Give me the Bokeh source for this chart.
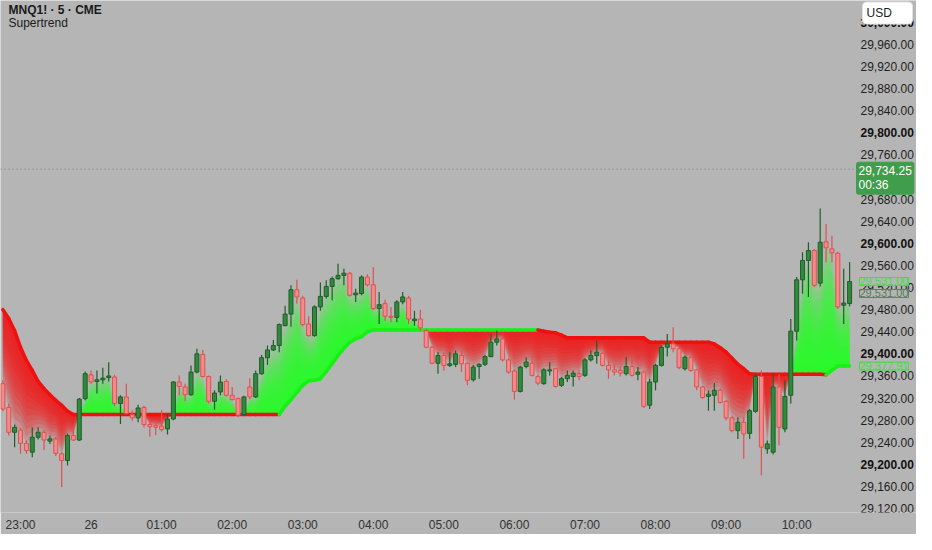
import numpy as np
import pandas as pd
from bokeh.plotting import figure
from bokeh.models import Range1d, FixedTicker, Label
from bokeh.core.properties import value
from bokeh.embed import file_html
from bokeh.resources import INLINE

# ---------------- data ----------------
SYMBOL_TITLE = "MNQ1! · 5 · CME"
INDICATOR = "Supertrend"
CURRENCY = "USD"

bar_times = pd.date_range("2025-06-25 22:45", periods=145, freq="5min")

opens = [29346, 29303, 29258, 29262, 29238, 29222, 29249, 29258, 29242, 29246,
         29219, 29207, 29252, 29244, 29319, 29362, 29350, 29353, 29357, 29358,
         29310, 29322, 29290, 29284, 29303, 29272, 29270, 29269, 29264, 29282,
         29349, 29340, 29326, 29367, 29399, 29359, 29314, 29331, 29350, 29325,
         29319, 29290, 29340, 29322, 29364, 29393, 29407, 29415, 29451, 29472,
         29516, 29501, 29454, 29433, 29485, 29504, 29522, 29536, 29542, 29546,
         29507, 29509, 29539, 29525, 29482, 29491, 29468, 29466, 29494, 29501,
         29460, 29463, 29442, 29412, 29383, 29397, 29379, 29381, 29397, 29383,
         29353, 29377, 29381, 29395, 29421, 29427, 29389, 29369, 29332, 29377,
         29383, 29359, 29346, 29369, 29373, 29343, 29355, 29359, 29364, 29361,
         29389, 29397, 29401, 29379, 29371, 29370, 29364, 29377, 29363, 29367,
         29307, 29349, 29379, 29412, 29418, 29409, 29373, 29393, 29371, 29340,
         29323, 29325, 29334, 29314, 29284, 29261, 29276, 29256, 29296, 29359,
         29228, 29222, 29340, 29264, 29325, 29441, 29534, 29569, 29587, 29528,
         29603, 29590, 29582, 29488, 29491]
highs = [29352, 29310, 29272, 29266, 29243, 29267, 29267, 29263, 29252, 29250,
         29222, 29256, 29263, 29320, 29368, 29370, 29370, 29375, 29385, 29362,
         29325, 29346, 29298, 29308, 29306, 29282, 29280, 29298, 29291, 29351,
         29361, 29346, 29379, 29409, 29407, 29361, 29334, 29361, 29354, 29340,
         29321, 29324, 29356, 29370, 29398, 29415, 29425, 29455, 29487, 29524,
         29534, 29505, 29468, 29488, 29529, 29533, 29540, 29563, 29554, 29548,
         29518, 29542, 29544, 29557, 29512, 29498, 29485, 29497, 29512, 29505,
         29478, 29480, 29445, 29414, 29403, 29403, 29403, 29406, 29406, 29385,
         29380, 29383, 29398, 29437, 29442, 29430, 29392, 29372, 29378, 29394,
         29397, 29362, 29374, 29385, 29375, 29358, 29370, 29370, 29370, 29392,
         29406, 29424, 29403, 29388, 29382, 29377, 29394, 29397, 29376, 29370,
         29355, 29382, 29415, 29436, 29448, 29412, 29397, 29396, 29373, 29342,
         29334, 29347, 29338, 29316, 29287, 29285, 29285, 29300, 29363, 29370,
         29243, 29363, 29364, 29352, 29463, 29539, 29584, 29602, 29590, 29663,
         29635, 29614, 29585, 29554, 29566]
lows = [29296, 29252, 29231, 29219, 29219, 29213, 29245, 29226, 29237, 29215,
        29159, 29198, 29242, 29242, 29316, 29346, 29328, 29346, 29350, 29305,
        29273, 29290, 29279, 29276, 29267, 29250, 29253, 29259, 29254, 29280,
        29325, 29314, 29324, 29365, 29357, 29310, 29299, 29325, 29323, 29316,
        29285, 29288, 29318, 29320, 29362, 29380, 29405, 29403, 29450, 29449,
        29491, 29450, 29431, 29431, 29478, 29500, 29497, 29534, 29524, 29504,
        29494, 29506, 29522, 29479, 29454, 29460, 29457, 29457, 29490, 29454,
        29451, 29442, 29410, 29381, 29364, 29370, 29376, 29376, 29367, 29343,
        29350, 29355, 29378, 29394, 29415, 29386, 29364, 29317, 29330, 29374,
        29359, 29343, 29344, 29361, 29339, 29340, 29349, 29341, 29352, 29358,
        29386, 29382, 29377, 29355, 29361, 29359, 29361, 29359, 29352, 29302,
        29300, 29334, 29377, 29395, 29403, 29372, 29370, 29367, 29334, 29318,
        29297, 29297, 29310, 29280, 29258, 29246, 29210, 29246, 29293, 29180,
        29219, 29218, 29234, 29258, 29310, 29424, 29509, 29503, 29521, 29522,
        29566, 29566, 29481, 29454, 29486]
closes = [29300, 29258, 29267, 29238, 29225, 29249, 29258, 29244, 29246, 29220,
          29207, 29252, 29244, 29318, 29364, 29349, 29353, 29356, 29360, 29310,
          29322, 29292, 29284, 29302, 29272, 29268, 29267, 29263, 29282, 29349,
          29341, 29326, 29367, 29400, 29359, 29314, 29329, 29349, 29325, 29317,
          29289, 29322, 29322, 29364, 29393, 29407, 29415, 29453, 29472, 29516,
          29503, 29453, 29433, 29485, 29504, 29522, 29536, 29542, 29546, 29506,
          29510, 29539, 29525, 29482, 29489, 29468, 29466, 29494, 29503, 29463,
          29463, 29447, 29412, 29383, 29397, 29379, 29382, 29400, 29382, 29352,
          29376, 29381, 29395, 29421, 29427, 29389, 29367, 29332, 29376, 29385,
          29361, 29347, 29371, 29371, 29341, 29355, 29361, 29365, 29359, 29389,
          29397, 29403, 29379, 29371, 29367, 29365, 29377, 29361, 29367, 29305,
          29349, 29379, 29412, 29418, 29409, 29375, 29394, 29370, 29340, 29321,
          29327, 29334, 29312, 29284, 29261, 29276, 29255, 29297, 29359, 29231,
          29237, 29340, 29267, 29323, 29441, 29534, 29569, 29587, 29524, 29602,
          29592, 29583, 29485, 29492, 29531]
supertrend = [29480, 29464, 29442, 29412, 29388, 29370, 29350, 29337, 29326, 29316,
              29307, 29296, 29290, 29290, 29290, 29290, 29290, 29290, 29290, 29290,
              29290, 29290, 29290, 29290, 29290, 29290, 29290, 29290, 29290, 29290,
              29290, 29290, 29290, 29290, 29290, 29290, 29290, 29290, 29290, 29290,
              29290, 29290, 29290, 29290, 29290, 29290, 29290, 29290, 29305, 29317,
              29330, 29343, 29351, 29352, 29355, 29368, 29382, 29397, 29410, 29421,
              29427, 29431, 29440, 29443, 29443, 29443, 29443, 29443, 29443, 29443,
              29443, 29443, 29443, 29443, 29443, 29443, 29443, 29443, 29443, 29443,
              29443, 29443, 29443, 29443, 29443, 29443, 29443, 29443, 29443, 29443,
              29443, 29443, 29441, 29439, 29438, 29434, 29429, 29429, 29429, 29429,
              29429, 29429, 29429, 29429, 29429, 29429, 29429, 29429, 29429, 29429,
              29421, 29421, 29421, 29421, 29421, 29421, 29421, 29421, 29421, 29421,
              29421, 29418, 29411, 29403, 29392, 29381, 29373, 29364, 29363, 29363,
              29363, 29363, 29363, 29363, 29363, 29363, 29363, 29363, 29363, 29363,
              29362, 29370, 29377.91, 29377.91, 29377.91]
trend_runs = [("down", 48), ("up", 44), ("down", 49), ("up", 4)]

last_quote = 29734.25
countdown = "00:36"
last_close = 29531.00
st_value = 29377.91
y_ticks = [29120 + 40 * k for k in range(23)]

# ---------------- style / layout ----------------
BG = "#b5b5b5"
FONT = "Liberation Sans"
UP_FILL, UP_LINE = "#2f8a3c", "#1d5f27"
DN_FILL, DN_LINE = "#f28b8b", "#e0504f"
ST_RED, ST_GREEN = "#f01010", "#16f016"
FILL_RED, FILL_GREEN = "#f01818", "#22ff22"

W, H = 916, 534
BOTTOM = 22                      # x-axis band
PX_PER_BAR = 5.88
PX_PER_PT = 0.5524
X_FIRST_HOUR_PX = 20             # where 23:00 sits
Y_REF_PX, Y_REF_P = 44, 29960    # pixel row of one price level
PRICE_COL_PX = 860               # left edge of price labels
BARS_END_PX = 853

n = len(closes)
xs = np.arange(n, dtype=float)
o = np.array(opens, float); h = np.array(highs, float)
l = np.array(lows, float); c = np.array(closes, float)
st = np.array(supertrend, float)
trend = [t for t, k in trend_runs for _ in range(k)]

tick_pos, tick_lab = [], {}
for i, t in enumerate(bar_times):
    if t.minute == 0:
        tick_pos.append(i)
        tick_lab[i] = t.strftime("%d") if t.hour == 0 else t.strftime("%H:%M")

first_hour = tick_pos[0]
x0 = first_hour - X_FIRST_HOUR_PX / PX_PER_BAR
x1 = x0 + W / PX_PER_BAR
frame_h = H - BOTTOM
y_top = Y_REF_P + Y_REF_PX / PX_PER_PT
y_bot = y_top - frame_h / PX_PER_PT
px2x = lambda px: x0 + px / PX_PER_BAR
px2y = lambda py: y_top - py / PX_PER_PT

p = figure(width=W, height=H, output_backend="svg", toolbar_location=None,
           x_range=Range1d(x0, x1), y_range=Range1d(y_bot, y_top),
           y_axis_location=None,
           background_fill_color=BG, border_fill_color=BG, outline_line_color=None,
           min_border_left=0, min_border_top=0, min_border_right=0, min_border_bottom=BOTTOM)
p.grid.visible = False

xa = p.xaxis[0]
xa.ticker = FixedTicker(ticks=tick_pos)
xa.major_label_overrides = tick_lab
xa.axis_line_color = None
xa.major_tick_line_color = None
xa.minor_tick_line_color = None
xa.major_tick_out = 0
xa.major_label_standoff = 5
xa.major_label_text_font = FONT
xa.major_label_text_font_size = "12px"
xa.major_label_text_color = "#333333"

# gradient fills between supertrend and candle bodies
body_lo = np.minimum(o, c); body_hi = np.maximum(o, c)
g_target = np.where(body_lo > st, body_lo, st)
r_target = np.where(body_hi < st, body_hi, st)
N = 12
for k in range(1, N + 1):
    f = k / N
    p.varea(x=xs, y1=st, y2=st + (g_target - st) * f, fill_color=FILL_GREEN, fill_alpha=0.2)
    p.varea(x=xs, y1=st, y2=st + (r_target - st) * f, fill_color=FILL_RED, fill_alpha=0.2)

# supertrend line
seg_col = [ST_GREEN if trend[i] == "up" else ST_RED for i in range(1, n)]
p.segment(x0=xs[:-1], y0=st[:-1], x1=xs[1:], y1=st[1:], line_color=seg_col,
          line_width=3.5, line_cap="round")

# dotted last-quote line across the price pane
p.segment(x0=[x0], y0=[last_quote], x1=[px2x(BARS_END_PX)], y1=[last_quote],
          line_color="#7a7a7a", line_dash="1 3", line_width=1)

# candles
up = c >= o
wick_col = np.where(up, UP_LINE, DN_LINE).tolist()
fill_col = np.where(up, UP_FILL, DN_FILL).tolist()
p.segment(x0=xs, y0=h, x1=xs, y1=l, line_color=wick_col, line_width=1.2)
p.vbar(x=xs, width=0.68, top=body_hi, bottom=body_lo, fill_color=fill_col,
       line_color=wick_col, line_width=1)

# price scale labels (right column)
lab_x = px2x(PRICE_COL_PX)
norm = [v for v in y_ticks if v % 200 != 0]
bold = [v for v in y_ticks if v % 200 == 0]
p.text(x=[lab_x] * len(norm), y=norm, text=[f"{v:,.2f}" for v in norm],
       text_font=value(FONT), text_font_size="12px", text_color="#1e1e1e",
       text_baseline="middle", text_align="left")
p.text(x=[lab_x] * len(bold), y=bold, text=[f"{v:,.2f}" for v in bold],
       text_font=value(FONT), text_font_size="12px", text_font_style="bold",
       text_color="#111111", text_baseline="middle", text_align="left")

# header texts
p.add_layout(Label(x=8, x_units="screen", y=px2y(9.5), text=SYMBOL_TITLE, text_font=FONT,
                   text_font_size="12px", text_font_style="bold", text_color="#1a1a1a",
                   text_baseline="middle"))
p.add_layout(Label(x=8, x_units="screen", y=px2y(22.5), text=INDICATOR, text_font=FONT,
                   text_font_size="12px", text_color="#1a1a1a", text_baseline="middle"))

# right-side tags
p.add_layout(Label(x=862, x_units="screen", y=px2y(12.5), text=CURRENCY + "     ",
                   text_font=FONT, text_font_size="12px", text_color="#222222",
                   text_baseline="middle", background_fill_color="white",
                   border_line_color="#e0e0e0", padding=4, border_radius=4))
p.add_layout(Label(x=856, x_units="screen", y=last_quote, y_offset=7,
                   text=f"{last_quote:,.2f}\n{countdown}", text_line_height=1.0,
                   text_font=FONT, text_font_size="12px", text_color="white",
                   text_baseline="top", background_fill_color="#3f9d4b",
                   border_line_color="#3f9d4b", padding=2, border_radius=2))
p.add_layout(Label(x=859, x_units="screen", y=last_close, y_offset=-12, text=f"{last_close:,.2f}",
                   text_font=FONT, text_font_size="11px", text_color="#557f55",
                   text_baseline="middle", border_line_color="#6a7a6a",
                   background_fill_color=BG, padding=0))
p.add_layout(Label(x=859, x_units="screen", y=last_close, text=f"{last_close:,.2f}",
                   text_font=FONT, text_font_size="11px", text_color="#3fe03f",
                   text_baseline="middle", border_line_color="#3fe03f",
                   background_fill_color=BG, padding=0))
p.add_layout(Label(x=859, x_units="screen", y=st_value, text=f"{st_value:,.2f}",
                   text_font=FONT, text_font_size="11px", text_color="#3fe03f",
                   text_baseline="middle", border_line_color="#3fe03f",
                   background_fill_color=BG, padding=0))

open("out.html", "w").write(file_html(p, INLINE))
